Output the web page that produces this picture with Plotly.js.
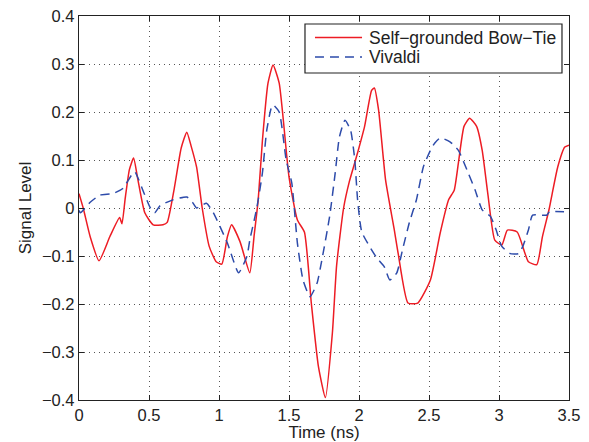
<!DOCTYPE html>
<html><head><meta charset="utf-8">
<script src="https://cdn.plot.ly/plotly-3.0.1.min.js"></script>
<style>html,body{margin:0;padding:0;background:#fff}#chart{width:589px;height:442px}</style>
</head><body><div id="chart"></div>
<script>
const bowTieTime = [0, 0.03, 0.08, 0.143, 0.22, 0.29, 0.307, 0.33, 0.36, 0.39, 0.42, 0.47, 0.53, 0.6, 0.63, 0.68, 0.73, 0.77, 0.8, 0.84, 0.88, 0.93, 0.98, 1.02, 1.06, 1.09, 1.15, 1.22, 1.25, 1.28, 1.31, 1.35, 1.386, 1.43, 1.5, 1.56, 1.61, 1.66, 1.71, 1.76, 1.81, 1.84, 1.89, 1.93, 1.99, 2.04, 2.09, 2.11, 2.14, 2.19, 2.25, 2.28, 2.35, 2.42, 2.51, 2.58, 2.64, 2.68, 2.71, 2.75, 2.79, 2.84, 2.88, 2.92, 2.97, 3.02, 3.06, 3.13, 3.21, 3.27, 3.31, 3.36, 3.38, 3.42, 3.47, 3.5];
const bowTieValues = [0.03, 0.0, -0.06, -0.11, -0.06, -0.02, -0.033, 0.02, 0.08, 0.104, 0.06, -0.01, -0.035, -0.035, -0.03, 0.04, 0.125, 0.158, 0.13, 0.085, 0.0, -0.08, -0.112, -0.117, -0.06, -0.035, -0.07, -0.135, -0.06, 0.017, 0.14, 0.26, 0.298, 0.26, 0.065, -0.025, -0.05, -0.2, -0.33, -0.395, -0.26, -0.12, 0.0, 0.054, 0.115, 0.17, 0.245, 0.25, 0.204, 0.058, -0.042, -0.095, -0.198, -0.198, -0.15, -0.052, 0.017, 0.037, 0.094, 0.17, 0.187, 0.17, 0.12, 0.03, -0.067, -0.077, -0.046, -0.05, -0.112, -0.118, -0.06, 0.0, 0.03, 0.086, 0.127, 0.131];

const vivaldiTime = [0, 0.01, 0.08, 0.15, 0.24, 0.31, 0.386, 0.4, 0.47, 0.51, 0.54, 0.58, 0.67, 0.77, 0.81, 0.84, 0.91, 0.96, 1.06, 1.14, 1.2, 1.22, 1.27, 1.31, 1.34, 1.37, 1.386, 1.43, 1.48, 1.52, 1.56, 1.6, 1.65, 1.7, 1.74, 1.79, 1.83, 1.86, 1.9, 1.94, 1.97, 1.99, 2.02, 2.1, 2.13, 2.18, 2.22, 2.27, 2.31, 2.36, 2.41, 2.46, 2.51, 2.54, 2.58, 2.65, 2.71, 2.78, 2.83, 2.88, 2.94, 2.98, 3.02, 3.08, 3.14, 3.17, 3.21, 3.24, 3.34, 3.36, 3.5];
const vivaldiValues = [-0.005, -0.01, 0.012, 0.027, 0.03, 0.04, 0.073, 0.075, 0.027, 0.0, -0.01, 0.005, 0.017, 0.023, 0.012, 0.0, 0.01, -0.01, -0.073, -0.135, -0.1, -0.067, 0.0, 0.073, 0.16, 0.205, 0.215, 0.2, 0.1, 0.052, -0.073, -0.15, -0.185, -0.157, -0.1, -0.018, 0.073, 0.148, 0.183, 0.162, 0.1, 0.017, -0.05, -0.092, -0.105, -0.122, -0.15, -0.135, -0.088, -0.03, 0.017, 0.086, 0.12, 0.135, 0.146, 0.138, 0.12, 0.073, 0.037, -0.004, -0.018, -0.046, -0.08, -0.095, -0.095, -0.08, -0.046, -0.015, -0.015, -0.008, -0.008];

const seriesNames = ['Self\u2212grounded Bow\u2212Tie', 'Vivaldi'];
const seriesColors = ['rgb(237,28,36)', 'rgb(45,75,170)'];
const seriesDash = ['solid', '9px,6px'];

const traces = [
  {x: bowTieTime, y: bowTieValues, type: 'scatter', mode: 'lines', name: seriesNames[0], showlegend: false,
   line: {color: seriesColors[0], width: 1.5, dash: seriesDash[0], shape: 'spline', smoothing: 0.5}},
  {x: vivaldiTime, y: vivaldiValues, type: 'scatter', mode: 'lines', name: seriesNames[1], showlegend: false,
   line: {color: seriesColors[1], width: 1.5, dash: seriesDash[1], shape: 'spline', smoothing: 0.5}}
];

const FONT = 'Liberation Sans, Arial, sans-serif';
const axisCommon = {
  showline: true, linecolor: '#222', linewidth: 1.2, mirror: 'ticks',
  ticks: 'inside', ticklen: 5, tickcolor: '#222',
  showgrid: true, gridcolor: '#555', griddash: '1px,4px', gridwidth: 1,
  zeroline: false, tickfont: {family: FONT, size: 16.5, color: '#222'}
};

// Legend box drawn in paper coordinates (MATLAB-style legend)
const legBox = {x0: 0.4612, x1: 0.9857, y0: 0.8516, y1: 0.9792};
const legRowsY = [0.944, 0.893];
const legLineX = [0.4816, 0.5776];
const legTextX = 0.5878;

const shapes = [{type: 'rect', xref: 'paper', yref: 'paper', x0: legBox.x0, x1: legBox.x1, y0: legBox.y0, y1: legBox.y1,
  fillcolor: '#fff', line: {color: '#222', width: 1.2}, layer: 'above'}];
const annotations = [];
seriesNames.forEach((nm, i) => {
  shapes.push({type: 'line', xref: 'paper', yref: 'paper', x0: legLineX[0], x1: legLineX[1], y0: legRowsY[i], y1: legRowsY[i],
    line: {color: seriesColors[i], width: 1.5, dash: seriesDash[i]}, layer: 'above'});
  annotations.push({xref: 'paper', yref: 'paper', x: legTextX, y: legRowsY[i], xanchor: 'left', yanchor: 'middle',
    text: nm, showarrow: false, font: {family: FONT, size: 17.5, color: '#222'}});
});

const layout = {
  width: 589, height: 442,
  margin: {l: 79, r: 20, t: 16, b: 42},
  paper_bgcolor: '#fff', plot_bgcolor: '#fff',
  font: {family: FONT, size: 16.5, color: '#222'},
  xaxis: Object.assign({}, axisCommon, {range: [0, 3.5], dtick: 0.5, tick0: 0,
    title: {text: 'Time (ns)', standoff: 0, font: {size: 17}}}),
  yaxis: Object.assign({}, axisCommon, {range: [-0.4, 0.4], dtick: 0.1, tick0: 0,
    title: {text: 'Signal Level', standoff: 6, font: {size: 17}}}),
  showlegend: false,
  shapes: shapes,
  annotations: annotations
};

Plotly.newPlot('chart', traces, layout, {displayModeBar: false, staticPlot: true});
</script></body></html>
